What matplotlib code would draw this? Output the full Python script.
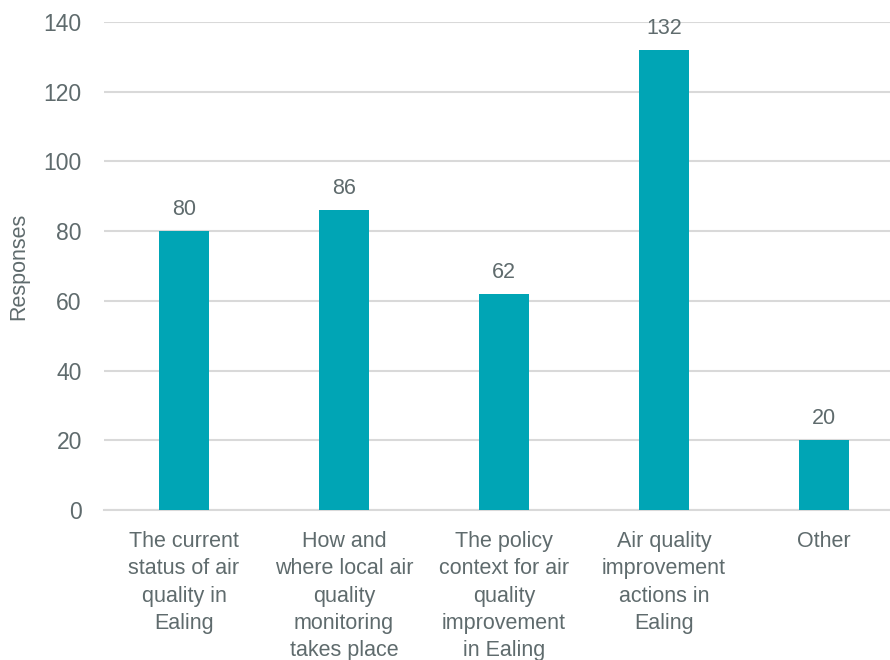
import matplotlib.pyplot as plt

categories = ["The current\nstatus of air\nquality in\nEaling",
              "How and\nwhere local air\nquality\nmonitoring\ntakes place",
              "The policy\ncontext for air\nquality\nimprovement\nin Ealing",
              "Air quality\nimprovement\nactions in\nEaling",
              "Other"]
responses = [80, 86, 62, 132, 20]
yticks = [0, 20, 40, 60, 80, 100, 120, 140]

bar_color = "#00a5b5"
text_color = "#5f6b6d"
grid_color = "#d9d9d9"

plt.rcParams['font.family'] = ['Liberation Sans', 'DejaVu Sans']

fig = plt.figure(figsize=(8.9, 6.6), dpi=100)
ax = fig.add_axes([0.1169, 0.2273, 0.8989, 0.7394])

x = range(len(categories))
bars = ax.bar(x, responses, width=0.31, color=bar_color, zorder=3)
for xi, v in zip(x, responses):
    ax.text(xi, v + 3.2, str(v), ha="center", va="bottom", fontsize=15.5, color=text_color)

ax.set_xlim(-0.5, len(categories) - 0.5)
ax.set_ylim(0, 140)
ax.set_yticks(yticks)
ax.set_xticks(list(x))
ax.set_xticklabels(categories, linespacing=1.4)
ax.tick_params(axis="both", length=0, labelsize=15.5, labelcolor=text_color)
ax.tick_params(axis="y", labelsize=16.5)
ax.tick_params(axis="x", pad=15)
ax.tick_params(axis="y", pad=16)
ax.grid(axis="y", color=grid_color, linewidth=1.5, zorder=0)
for s in ["top", "right", "left"]:
    ax.spines[s].set_visible(False)
ax.spines["bottom"].set_color(grid_color)
ax.spines["bottom"].set_linewidth(1.5)
ax.set_ylabel("Responses", fontsize=15.5, color=text_color, labelpad=10)

fig.savefig("out.png", dpi=100)
